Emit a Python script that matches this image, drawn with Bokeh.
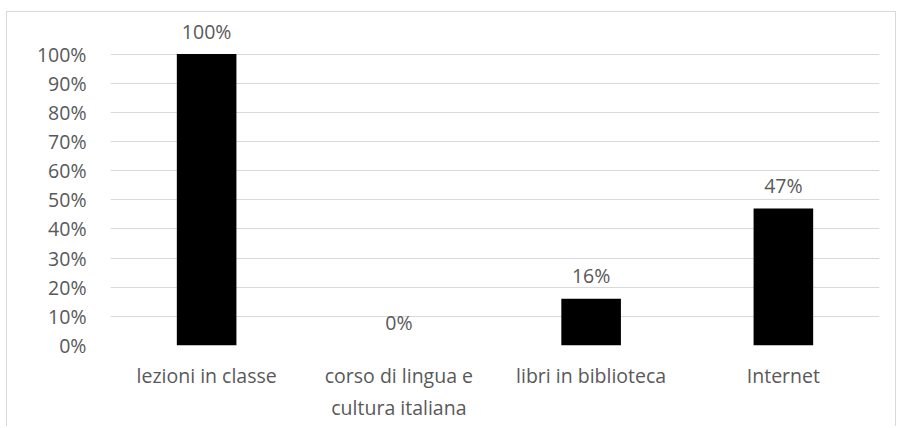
from bokeh.plotting import figure
from bokeh.models import Range1d, FixedTicker, ColumnDataSource, NumeralTickFormatter
from bokeh.core.properties import value
from bokeh.embed import file_html
from bokeh.resources import INLINE

categories = ["lezioni in classe", "corso di lingua e\ncultura italiana", "libri in biblioteca", "Internet"]
values = [1.00, 0.00, 0.16, 0.47]
labels = ["100%", "0%", "16%", "47%"]
y_ticks = [0, 0.1, 0.2, 0.3, 0.4, 0.5, 0.6, 0.7, 0.8, 0.9, 1.0]

FONT = "Open Sans"
TXT = "#595959"

src = ColumnDataSource(dict(x=categories, top=values, lab=labels))

p = figure(x_range=categories, y_range=Range1d(0, 1.115), width=890, height=415,
           output_backend="svg", toolbar_location=None,
           min_border_left=103, min_border_right=18, min_border_top=8, min_border_bottom=82)
p.styles = {"border": "1px solid #d9d9d9", "border-bottom": "none"}
p.margin = (11, 0, 0, 6)
p.outline_line_color = None
p.background_fill_color = "white"

p.vbar(x="x", top="top", width=0.31, source=src, fill_color="black", line_color=None)
p.text(x="x", y="top", text="lab", source=src, text_align="center", text_baseline="middle",
       y_offset=-23, text_font=value(FONT), text_font_size="19.5px", text_color=TXT)

p.xgrid.grid_line_color = None
p.ygrid.grid_line_color = "#d9d9d9"
p.ygrid.grid_line_width = 1
p.yaxis.ticker = FixedTicker(ticks=y_ticks)
p.yaxis.formatter = NumeralTickFormatter(format="0%")

for ax in (p.xaxis, p.yaxis):
    ax.axis_line_color = None
    ax.major_tick_line_color = None
    ax.minor_tick_line_color = None
    ax.major_label_text_font = FONT
    ax.major_label_text_font_size = "19.5px"
    ax.major_label_text_color = TXT
p.yaxis.major_label_standoff = 18
p.xaxis.major_label_standoff = 10

open("out.html", "w").write(file_html(p, INLINE))
